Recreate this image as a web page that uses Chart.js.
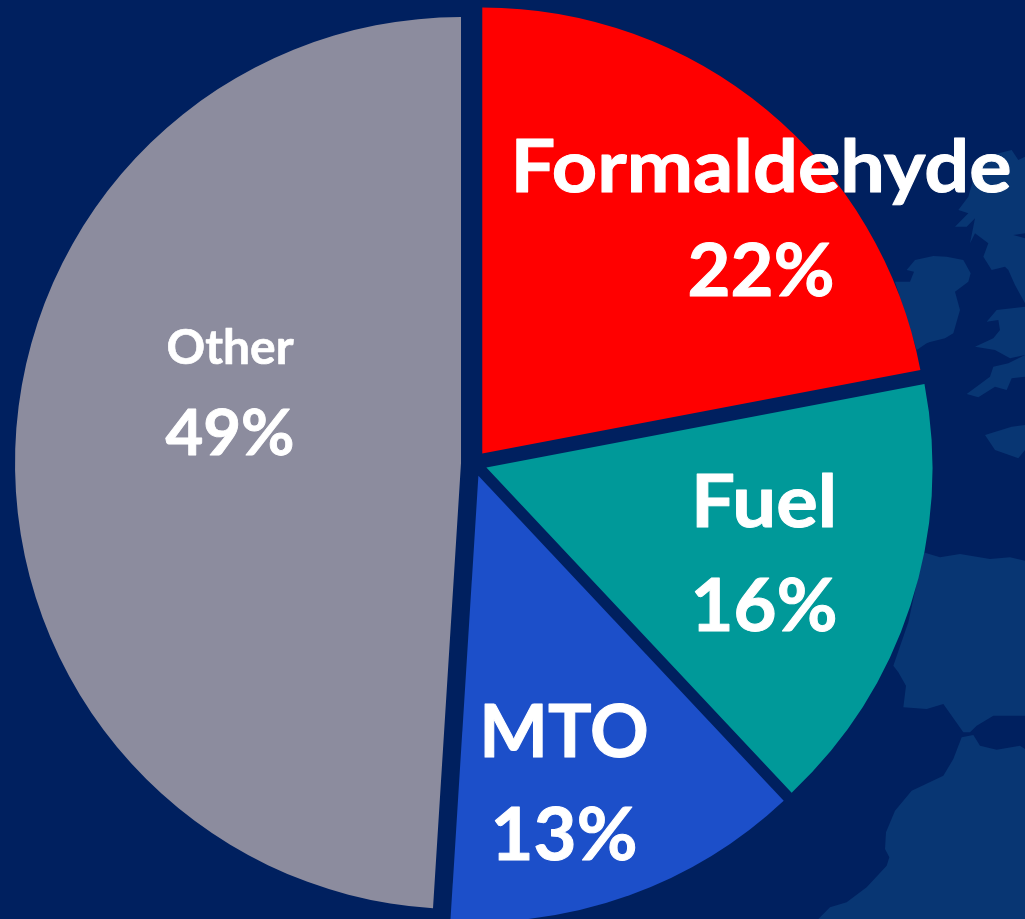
<!DOCTYPE html>
<html><head><meta charset="utf-8">
<style>html,body{margin:0;padding:0;background:#00205f;overflow:hidden}
#w{position:absolute;left:0;top:0;width:1025px;height:919px}</style>
<script src="https://cdn.jsdelivr.net/npm/chart.js@4"></script></head>
<body><div id="w"><canvas id="c" width="1025" height="919"></canvas></div>
<script>
const categories=["Formaldehyde","Fuel","MTO","Other"];
const shares=[22,16,13,49];
const sliceColors=["#ff0000","#009999","#1c4fc9","#8c8c9e"];
const BG="#00205f",LAND="#083673",GAP=13;
const labelStyle=[
 {x:761,y1:192,y2:296,s1:72,s2:72,w1:1.1,w2:1.03},
 {x:764,y1:527,y2:631,s1:72,s2:72,w1:1.08,w2:1.03},
 {x:564,y1:757,y2:860,s1:72,s2:72,w1:1.01,w2:1.03},
 {x:230,y1:364,y2:455,s1:47,s2:64,w1:1.02,w2:1.02}];
const z1=p=>p.map(([x,y])=>[800+x/3,130+y/3]);
const z2=p=>p.map(([x,y])=>[780+x/3,519+y/3]);
const z3=p=>p.map(([x,y])=>[925+x/3,130+y/3]);
const z4=p=>p.map(([x,y])=>[925+x/3,270+y/3]);
const land=[
 z1([[285,455],[330,455],[342,425],[320,420],[345,390],[400,378],[440,380],[490,390],[512,430]]).concat(z4([[130,35],[90,65],[105,120],[85,190],[60,205],[0,220]])).concat(z1([[420,625],[380,640],[350,660]])),
 z3([[100,240],[130,200],[150,130],[200,75],[260,60],[280,90],[300,80],[300,310],[265,315],[300,325],[300,450]]).concat(z4([[300,100],[270,45],[250,0]])).concat(z3([[240,410],[200,420],[175,380],[190,340],[150,310],[135,340],[150,265],[125,290],[90,290],[130,250]])),
 z4([[185,155],[215,120],[300,110],[300,255],[255,265],[210,240],[150,230],[205,205],[225,180],[220,150]]),
 z4([[125,372],[195,320],[205,290],[250,280],[300,255],[300,320],[260,325],[245,360],[210,350],[160,382]]),
 z4([[180,495],[260,470],[300,465],[300,540],[280,565],[210,540]]),
 z2([[430,100],[480,115],[540,105],[630,120],[690,115],[735,125],[735,590],[640,590],[590,620],[570,640],[550,640],[515,590],[490,555],[440,570],[370,565],[378,500],[355,460],[340,440],[385,310]]),
 z2([[545,655],[580,648],[600,680],[650,692],[720,680],[735,690],[735,1200],[115,1200],[150,1165],[200,1150],[260,1105],[320,1040],[328,1015],[315,990],[318,940],[345,875],[395,815],[490,770],[520,720]])
];
const backdrop={id:"backdrop",beforeDraw(ch){const g=ch.ctx;g.save();g.fillStyle=BG;g.fillRect(0,0,ch.width,ch.height);g.fillStyle=LAND;
 land.forEach(p=>{g.beginPath();p.forEach(([x,y],i)=>i?g.lineTo(x,y):g.moveTo(x,y));g.closePath();g.fill();});g.restore();}};
const explode={id:"explode",afterDatasetsUpdate(ch){ch.getDatasetMeta(0).data.forEach(a=>{const m=(a.startAngle+a.endAngle)/2;a.x+=Math.cos(m)*GAP;a.y+=Math.sin(m)*GAP;});}};
function put(g,t,x,y,size,w){g.save();g.translate(x,y);g.scale(w,1);g.font=`bold ${size}px Lato`;g.lineJoin="round";g.lineWidth=size/72;g.strokeStyle="#fff";g.strokeText(t,0,0);g.fillText(t,0,0);g.restore();}
const labels={id:"labels",afterDraw(ch){const g=ch.ctx;g.save();g.fillStyle="#fff";g.textAlign="center";g.textBaseline="alphabetic";
 categories.forEach((c,i)=>{const s=labelStyle[i];put(g,c,s.x,s.y1,s.s1,s.w1);put(g,shares[i]+"%",s.x,s.y2,s.s2,s.w2);});g.restore();}};
new Chart(document.getElementById("c"),{type:"pie",
 data:{labels:categories,datasets:[{data:shares,backgroundColor:sliceColors,borderWidth:0}]},
 options:{responsive:false,animation:false,radius:446,layout:{padding:{right:77,top:8}},
  plugins:{legend:{display:false},tooltip:{enabled:false}}},
 plugins:[backdrop,explode,labels]});
</script></body></html>
